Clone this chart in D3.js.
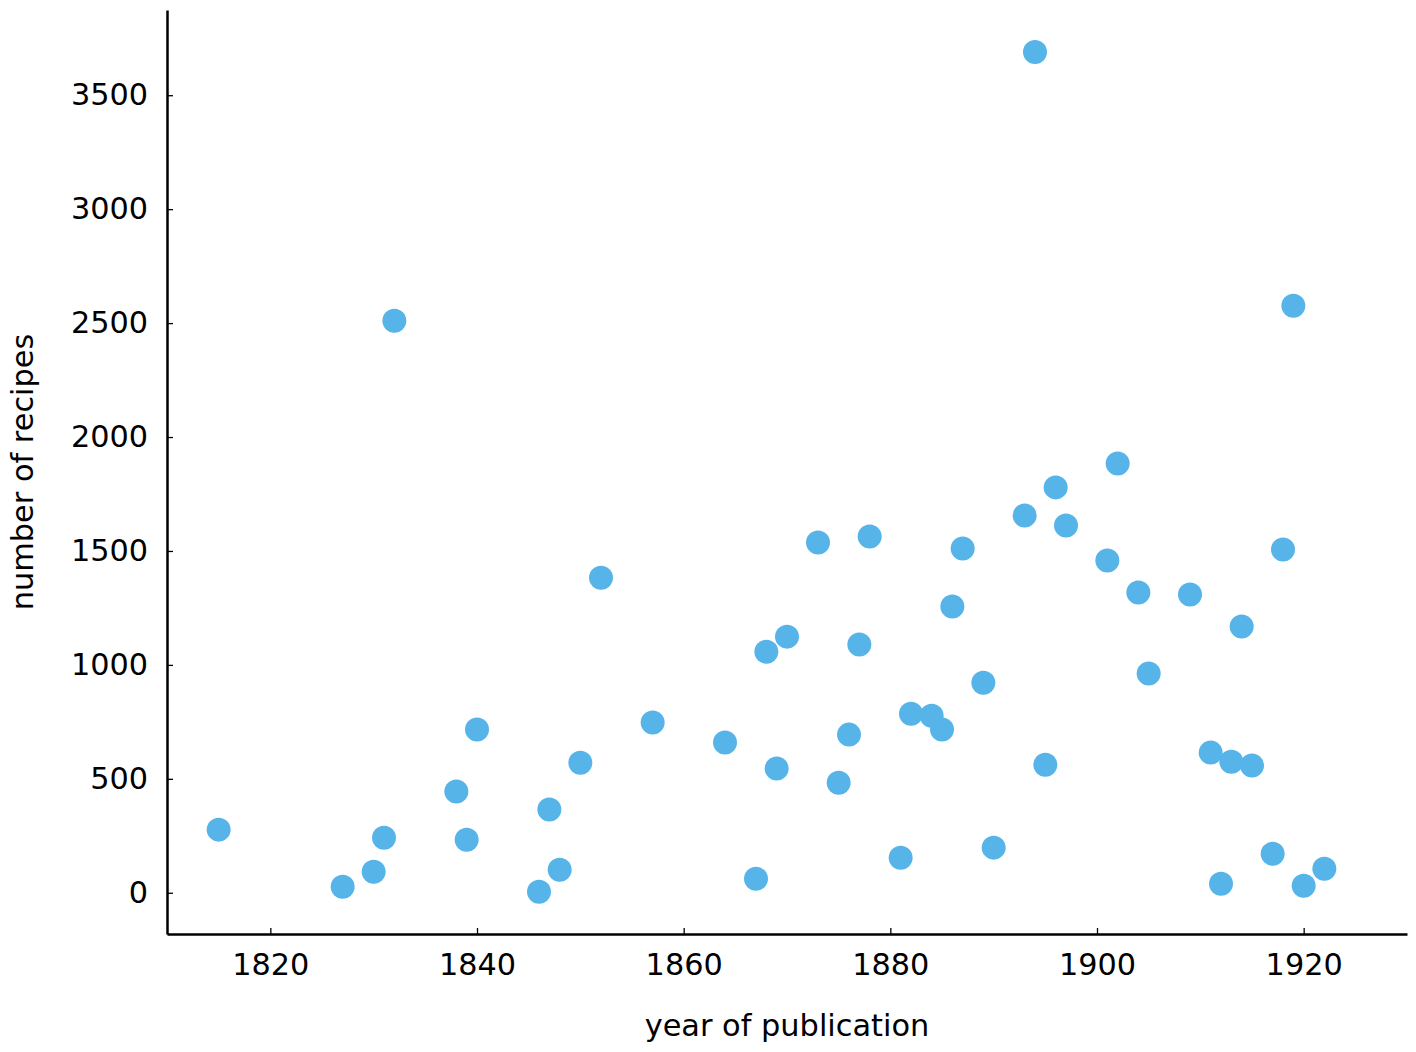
<!DOCTYPE html>
<html lang="en">
<head>
  <meta charset="utf-8">
  <title>Recipes by year of publication</title>
  <script src="https://cdn.jsdelivr.net/npm/d3@7"></script>
<style>
body {
	margin: 0;
	background: #fff;
	font-family: 'DejaVu Sans', sans-serif;
}
.axis path,
.axis line {
	stroke: #000;
}
.axis text {
	font-family: 'DejaVu Sans', sans-serif;
	font-size: 30.3px;
	fill: #000;
}
.axislabel {
	font-family: 'DejaVu Sans', sans-serif;
	font-size: 30.4px;
	fill: #000;
}
</style>
</head>
<body>
<svg width="1416" height="1052"></svg>
<script>

// year of publication / number of recipes, one entry per book
var years = [1815, 1827, 1830, 1831, 1832, 1838, 1839, 1840, 1846, 1847,
	1848, 1850, 1852, 1857, 1864, 1867, 1868, 1869, 1870, 1873,
	1875, 1876, 1877, 1878, 1881, 1882, 1884, 1885, 1886, 1887,
	1889, 1890, 1893, 1894, 1895, 1896, 1897, 1901, 1902, 1904,
	1905, 1909, 1911, 1912, 1913, 1914, 1915, 1917, 1918, 1919,
	1920, 1922];
var recipes = [277, 26, 92, 241, 2510, 444, 233, 716, 4, 365,
	101, 571, 1382, 747, 659, 61, 1058, 545, 1124, 1537,
	483, 694, 1089, 1563, 154, 786, 777, 716, 1256, 1511,
	922, 198, 1656, 3690, 562, 1779, 1612, 1458, 1884, 1318,
	962, 1309, 615, 40, 575, 1168, 558, 171, 1506, 2576,
	31, 105];

var xTicks = [1820, 1840, 1860, 1880, 1900, 1920];
var yTicks = [0, 500, 1000, 1500, 2000, 2500, 3000, 3500];

var data = years.map(function(y, i) { return {year: y, n: recipes[i]}; });

var svg = d3.select("svg"),
	margin = {top: 10, right: 9, bottom: 118, left: 167},
	width = 1416 - margin.left - margin.right,
	height = 1052 - margin.top - margin.bottom;

var x = d3.scaleLinear().domain([1810, 1930]).range([0, width]);
var y = d3.scaleLinear().domain([-181, 3874]).range([height, 0]);

var g = svg.append("g")
	.attr("transform", "translate(" + margin.left + "," + margin.top + ")");

// points first so the spines sit on top
g.append("g").selectAll("circle")
	.data(data)
	.enter().append("circle")
	.attr("cx", function(d) { return x(d.year); })
	.attr("cy", function(d) { return y(d.n); })
	.attr("r", 12)
	.attr("fill", "#56b4e9");

var xAxis = g.append("g")
	.attr("class", "axis")
	.attr("transform", "translate(0," + height + ")")
	.call(d3.axisBottom(x).tickValues(xTicks).tickFormat(d3.format("d"))
		.tickSizeInner(-6).tickSizeOuter(0).tickPadding(19));
xAxis.select(".domain").attr("stroke-width", 2.5);
xAxis.selectAll(".tick line").attr("stroke-width", 1.3);

var yAxis = g.append("g")
	.attr("class", "axis")
	.call(d3.axisLeft(y).tickValues(yTicks).tickFormat(d3.format("d"))
		.tickSizeInner(-6).tickSizeOuter(0).tickPadding(19));
yAxis.select(".domain").attr("stroke-width", 2.5);
yAxis.selectAll(".tick line").attr("stroke-width", 1.3);

svg.append("text")
	.attr("class", "axislabel")
	.attr("text-anchor", "middle")
	.attr("x", margin.left + width / 2)
	.attr("y", 1036)
	.text("year of publication");

svg.append("text")
	.attr("class", "axislabel")
	.attr("text-anchor", "middle")
	.attr("transform", "translate(33," + (margin.top + height / 2) + ") rotate(-90)")
	.text("number of recipes");

</script>
</body>
</html>
